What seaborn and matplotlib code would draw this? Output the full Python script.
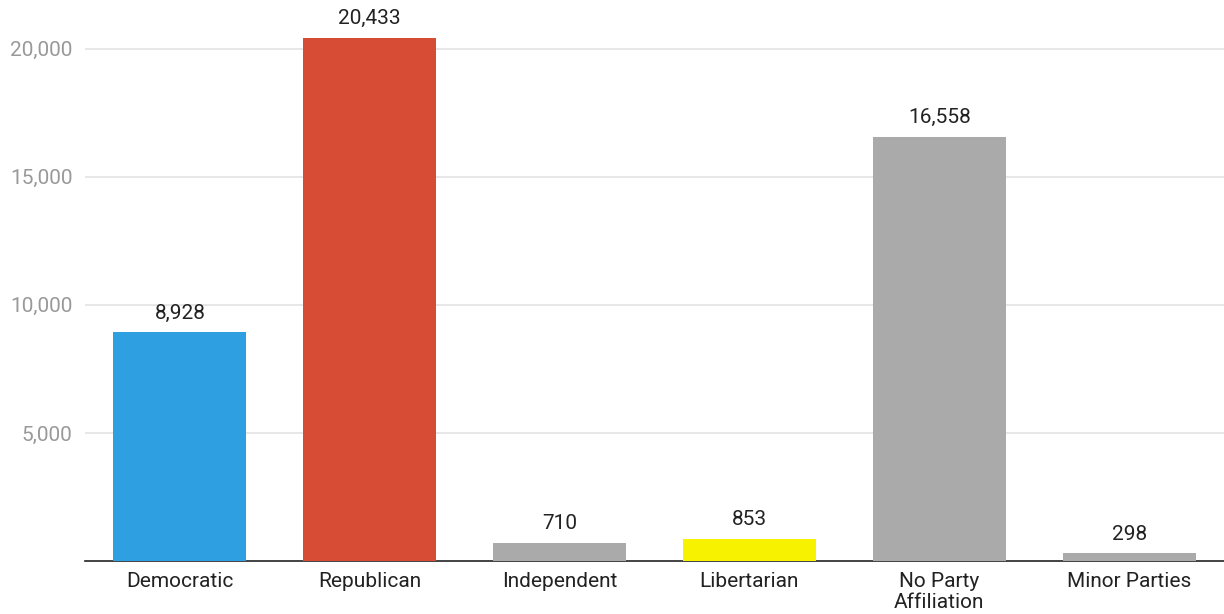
import numpy as np
import pandas as pd
import seaborn as sns
import matplotlib.pyplot as plt

PARTIES = ['Democratic', 'Republican', 'Independent', 'Libertarian',
           'No Party\nAffiliation', 'Minor Parties']
VOTERS = [8928, 20433, 710, 853, 16558, 298]
COLORS = ['#2E9FE1', '#D64C35', '#AAAAAA', '#F7F200', '#AAAAAA', '#AAAAAA']
Y_TICKS = [5000, 10000, 15000, 20000]

sns.set_theme(style='white')
plt.rcParams['font.family'] = ['Roboto', 'DejaVu Sans']

df = pd.DataFrame({'Party': PARTIES, 'Voters': VOTERS})

fig = plt.figure(figsize=(12.24, 6.14), dpi=100)
ax = fig.add_axes([85 / 1224, 53 / 614, 1 - 85 / 1224, 1 - 53 / 614])

sns.barplot(data=df, x='Party', y='Voters', hue='Party', palette=COLORS,
            legend=False, width=0.7, saturation=1, linewidth=0,
            ax=ax, zorder=3)

for i, v in enumerate(VOTERS):
    ax.text(i, v + 380, f'{v:,}', ha='center', va='bottom',
            fontsize=15, color='#222222')

ax.set_ylim(0, 21900)
ax.set_xlim(-0.5, 5.5)
ax.set_yticks(Y_TICKS)
ax.set_yticklabels([f'{t:,}' for t in Y_TICKS], color='#999999', fontsize=15)
ax.yaxis.grid(True, color='#E3E3E3', linewidth=1.2, zorder=0)
ax.set_axisbelow(True)
ax.tick_params(axis='x', labelsize=15, colors='#222222', length=0, pad=8)
ax.tick_params(axis='y', length=0, pad=9)
ax.set_xlabel('')
ax.set_ylabel('')
for s in ['top', 'right', 'left']:
    ax.spines[s].set_visible(False)
ax.spines['bottom'].set_color('#222222')
ax.spines['bottom'].set_linewidth(1.2)
for lbl in ax.get_xticklabels():
    lbl.set_linespacing(1.1)

fig.savefig('out.png', dpi=100)
